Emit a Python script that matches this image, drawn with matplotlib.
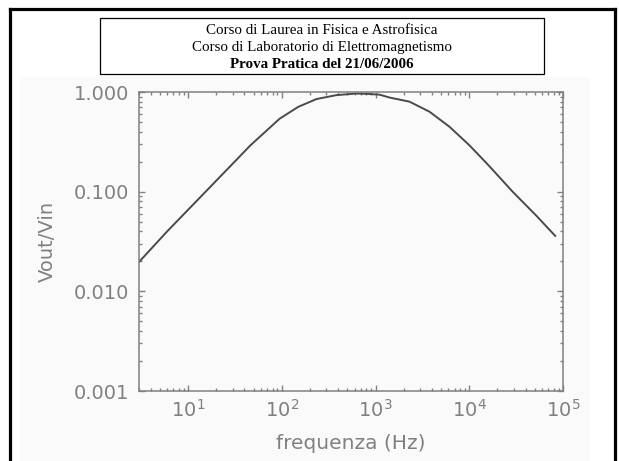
import matplotlib
matplotlib.use("Agg")
import matplotlib.pyplot as plt
from matplotlib.lines import Line2D
from matplotlib.patches import Rectangle
from matplotlib.ticker import FixedLocator, FormatStrFormatter, LogLocator, NullFormatter

# response of the circuit, read point by point
freq = [3, 6, 17, 36, 46, 95, 150, 234, 382, 624, 865, 1105, 1412, 2304,
        3770, 6150, 10000, 12800, 16400, 29000, 51400, 82600]
gain = [0.0197, 0.040, 0.110, 0.228, 0.290, 0.540, 0.710, 0.849, 0.930,
        0.965, 0.955, 0.940, 0.880, 0.800, 0.634, 0.448, 0.293, 0.230,
        0.180, 0.100, 0.058, 0.036]

y_ticks = [0.001, 0.01, 0.1, 1.0]
header = ["Corso di Laurea in Fisica e Astrofisica",
          "Corso di Laboratorio di Elettromagnetismo",
          "Prova Pratica del 21/06/2006"]

W, H = 619, 461
fig = plt.figure(figsize=(W / 100, H / 100), dpi=100)
fig.patch.set_facecolor("white")

def fx(px):
    return px / W

def fy(py):
    return 1 - py / H

# pasted plot background
fig.add_artist(Rectangle((fx(20), 0), fx(590) - fx(20), fy(77),
                         transform=fig.transFigure, facecolor="#fafafa",
                         edgecolor="none", zorder=0))

# slide frame (open at the bottom)
for xs, ys in [([10, 10], [9, 461]), ([615, 615], [9, 461]), ([10, 615], [9.5, 9.5])]:
    fig.add_artist(Line2D([fx(v) for v in xs], [fy(v) for v in ys],
                          transform=fig.transFigure, color="black", lw=2.3,
                          solid_capstyle="projecting"))

# header box
fig.add_artist(Rectangle((fx(100), fy(74)), fx(544) - fx(100), fy(18) - fy(74),
                         transform=fig.transFigure, facecolor="white",
                         edgecolor="black", lw=0.9))
for i, (txt, py) in enumerate(zip(header, [31, 48, 65])):
    fig.text(fx(322), fy(py), txt, ha="center", va="center",
             family="Liberation Serif", fontsize=10.8,
             weight="bold" if i == 2 else "normal")

ax = fig.add_axes([fx(139), fy(391), fx(563) - fx(139), fy(92) - fy(391)])
ax.set_facecolor("none")

grey = "#808080"
ax.plot(freq, gain, color="#4a4a4a", lw=1.4)

ax.set_xscale("log")
ax.set_yscale("log")
ax.set_xlim(3, 1e5)
ax.set_ylim(0.001, 1.0)

ax.yaxis.set_major_locator(FixedLocator(y_ticks))
ax.yaxis.set_major_formatter(FormatStrFormatter("%.3f"))
ax.yaxis.set_minor_locator(LogLocator(base=10, subs=range(2, 10)))
ax.yaxis.set_minor_formatter(NullFormatter())
ax.xaxis.set_minor_locator(LogLocator(base=10, subs=range(2, 10)))
ax.xaxis.set_minor_formatter(NullFormatter())

for s in ax.spines.values():
    s.set_color(grey)
    s.set_linewidth(1.1)

ax.tick_params(which="both", direction="in", top=True, right=True,
               color=grey, width=1.0, labelcolor=grey, labelsize=14)
ax.tick_params(which="major", length=4.5)
ax.tick_params(which="minor", length=2.4)
ax.tick_params(axis="x", which="major", pad=6)
ax.tick_params(axis="y", which="major", pad=7)

ax.set_xlabel("frequenza (Hz)", fontsize=14.5, color=grey)
ax.set_ylabel("Vout/Vin", fontsize=14, color=grey)
ax.xaxis.label.set_va("center")
ax.yaxis.label.set_va("center")
ax.xaxis.set_label_coords(0.5, -0.174)
ax.yaxis.set_label_coords(-0.217, 0.5)

fig.savefig("out.png", dpi=100)
